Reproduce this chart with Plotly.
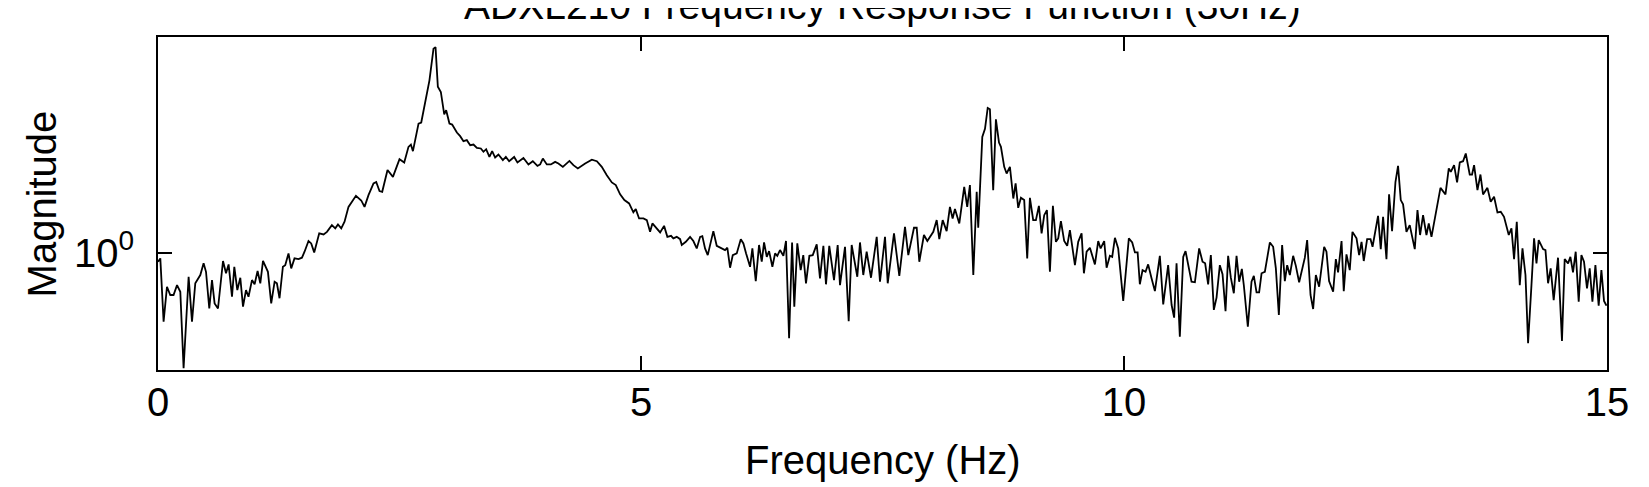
import plotly.graph_objects as go

# Frequency response (Hz, magnitude)
freq = [0.0, 0.024, 0.058, 0.093, 0.127, 0.161, 0.197, 0.231, 0.265, 0.317, 0.352, 0.386, 0.438, 0.472, 0.497,
        0.531, 0.559, 0.586, 0.621, 0.673, 0.704, 0.731, 0.766, 0.790, 0.821, 0.852, 0.880, 0.911, 0.937, 0.973,
        1.000, 1.031, 1.059, 1.087, 1.138, 1.172, 1.207, 1.231, 1.258, 1.293, 1.317, 1.351, 1.379, 1.413, 1.455,
        1.490, 1.517, 1.558, 1.586, 1.617, 1.669, 1.714, 1.749, 1.800, 1.835, 1.863, 1.897, 1.931, 1.972, 2.007,
        2.049, 2.104, 2.138, 2.179, 2.231, 2.259, 2.293, 2.321, 2.376, 2.432, 2.500, 2.549, 2.593, 2.618, 2.639,
        2.697, 2.725, 2.810, 2.835, 2.852, 2.873, 2.897, 2.928, 2.963, 2.983, 3.017, 3.045, 3.094, 3.128, 3.162,
        3.197, 3.232, 3.266, 3.301, 3.342, 3.369, 3.397, 3.431, 3.459, 3.490, 3.524, 3.570, 3.601, 3.635, 3.687,
        3.721, 3.783, 3.835, 3.880, 3.928, 3.956, 3.984, 4.025, 4.067, 4.111, 4.145, 4.191, 4.225, 4.259, 4.300,
        4.346, 4.422, 4.491, 4.543, 4.594, 4.646, 4.698, 4.739, 4.784, 4.828, 4.877, 4.921, 4.946, 4.980, 5.025,
        5.060, 5.094, 5.118, 5.163, 5.198, 5.239, 5.273, 5.311, 5.335, 5.370, 5.405, 5.422, 5.464, 5.508, 5.542,
        5.577, 5.612, 5.635, 5.663, 5.691, 5.718, 5.749, 5.784, 5.829, 5.870, 5.894, 5.922, 5.950, 5.991, 6.033,
        6.060, 6.088, 6.129, 6.153, 6.188, 6.222, 6.250, 6.274, 6.302, 6.326, 6.360, 6.388, 6.411, 6.439, 6.474,
        6.501, 6.533, 6.564, 6.587, 6.618, 6.653, 6.680, 6.708, 6.743, 6.778, 6.819, 6.853, 6.888, 6.915, 6.949,
        6.998, 7.036, 7.060, 7.112, 7.150, 7.181, 7.239, 7.267, 7.301, 7.336, 7.381, 7.440, 7.474, 7.526, 7.554,
        7.619, 7.674, 7.733, 7.767, 7.826, 7.854, 7.881, 7.929, 7.964, 8.026, 8.061, 8.088, 8.123, 8.164, 8.198,
        8.226, 8.250, 8.295, 8.346, 8.377, 8.405, 8.440, 8.475, 8.491, 8.533, 8.561, 8.589, 8.612, 8.646, 8.674,
        8.706, 8.726, 8.760, 8.785, 8.819, 8.854, 8.878, 8.905, 8.933, 8.967, 8.998, 9.026, 9.060, 9.088, 9.119,
        9.147, 9.174, 9.202, 9.233, 9.264, 9.295, 9.319, 9.347, 9.381, 9.412, 9.440, 9.492, 9.526, 9.561, 9.585,
        9.613, 9.647, 9.699, 9.733, 9.758, 9.795, 9.820, 9.854, 9.878, 9.906, 9.940, 9.992, 10.050, 10.085, 10.113,
        10.141, 10.164, 10.192, 10.223, 10.250, 10.285, 10.320, 10.371, 10.406, 10.457, 10.493, 10.519, 10.544,
        10.578, 10.613, 10.637, 10.699, 10.734, 10.778, 10.813, 10.840, 10.871, 10.899, 10.930, 10.958, 10.992,
        11.020, 11.051, 11.078, 11.106, 11.137, 11.165, 11.192, 11.220, 11.241, 11.282, 11.320, 11.344, 11.372,
        11.399, 11.424, 11.458, 11.510, 11.544, 11.572, 11.603, 11.637, 11.665, 11.689, 11.717, 11.751, 11.779,
        11.813, 11.872, 11.896, 11.931, 11.958, 11.986, 12.020, 12.072, 12.096, 12.123, 12.165, 12.193, 12.216,
        12.252, 12.275, 12.303, 12.337, 12.365, 12.407, 12.434, 12.459, 12.482, 12.517, 12.552, 12.573, 12.630,
        12.658, 12.682, 12.717, 12.744, 12.775, 12.810, 12.837, 12.865, 12.889, 12.924, 12.958, 13.010, 13.038,
        13.065, 13.096, 13.131, 13.155, 13.183, 13.235, 13.276, 13.328, 13.362, 13.383, 13.417, 13.448, 13.476,
        13.510, 13.538, 13.579, 13.603, 13.624, 13.659, 13.690, 13.717, 13.762, 13.796, 13.831, 13.866, 13.900,
        13.934, 13.983, 14.011, 14.038, 14.066, 14.097, 14.125, 14.156, 14.183, 14.218, 14.245, 14.270, 14.293,
        14.338, 14.363, 14.390, 14.417, 14.448, 14.493, 14.534, 14.562, 14.597, 14.621, 14.648, 14.676, 14.707,
        14.735, 14.762, 14.793, 14.821, 14.849, 14.880, 14.914, 14.942, 14.969, 14.994]

magnitude = [0.950, 0.969, 0.666, 0.819, 0.780, 0.780, 0.827, 0.795, 0.505, 0.869, 0.666, 0.836, 0.878, 0.941, 0.895,
             0.720, 0.852, 0.742, 0.720, 0.954, 0.887, 0.935, 0.772, 0.922, 0.803, 0.864, 0.728, 0.803, 0.772, 0.852,
             0.831, 0.899, 0.836, 0.955, 0.895, 0.742, 0.844, 0.836, 0.765, 0.922, 0.931, 0.998, 0.913, 0.969, 0.965,
             0.973, 1.008, 1.074, 1.059, 1.004, 1.124, 1.117, 1.134, 1.180, 1.158, 1.185, 1.158, 1.204, 1.315, 1.355,
             1.404, 1.366, 1.315, 1.410, 1.511, 1.524, 1.444, 1.438, 1.636, 1.571, 1.745, 1.711, 1.877, 1.903, 1.830,
             2.155, 2.168, 2.785, 3.135, 3.360, 3.390, 2.680, 2.599, 2.274, 2.333, 2.155, 2.142, 2.044, 2.000, 1.941,
             1.953, 1.896, 1.903, 1.866, 1.859, 1.823, 1.851, 1.768, 1.830, 1.762, 1.794, 1.735, 1.768, 1.724, 1.768,
             1.711, 1.758, 1.691, 1.724, 1.677, 1.691, 1.751, 1.691, 1.691, 1.717, 1.701, 1.667, 1.701, 1.727, 1.684,
             1.652, 1.701, 1.740, 1.724, 1.667, 1.587, 1.520, 1.497, 1.416, 1.369, 1.342, 1.273, 1.298, 1.228, 1.228,
             1.216, 1.134, 1.192, 1.158, 1.130, 1.175, 1.101, 1.108, 1.091, 1.101, 1.086, 1.049, 1.069, 1.101, 1.074,
             1.028, 1.101, 1.106, 1.028, 0.988, 1.059, 1.139, 1.044, 1.032, 1.018, 1.032, 0.917, 0.988, 0.998, 1.086,
             1.059, 0.998, 0.922, 1.028, 0.847, 1.049, 0.950, 1.065, 0.978, 1.012, 0.922, 0.998, 0.984, 1.018, 0.984,
             1.074, 0.604, 1.065, 0.728, 1.059, 0.904, 0.988, 0.836, 0.984, 0.988, 1.053, 0.861, 1.044, 0.831, 1.044,
             0.852, 1.049, 0.827, 1.038, 0.668, 1.049, 0.869, 1.065, 0.878, 1.008, 0.864, 1.101, 0.844, 1.101, 0.836,
             1.124, 0.874, 1.168, 0.988, 1.162, 1.162, 0.950, 1.113, 1.074, 1.134, 1.216, 1.086, 1.216, 1.139, 1.315,
             1.228, 1.298, 1.192, 1.481, 1.315, 1.497, 0.878, 1.438, 1.162, 1.991, 2.089, 2.364, 2.346, 1.452, 2.210,
             1.926, 1.877, 1.667, 1.603, 1.667, 1.382, 1.511, 1.308, 1.388, 1.369, 0.969, 1.388, 1.216, 1.216, 1.323,
             1.124, 1.252, 1.290, 0.895, 1.323, 1.069, 1.091, 1.208, 1.074, 1.044, 1.146, 0.931, 1.069, 1.124, 0.887,
             1.008, 1.032, 0.935, 1.074, 1.028, 1.074, 0.917, 0.984, 0.978, 1.095, 1.028, 0.753, 1.091, 1.065, 1.004,
             1.004, 0.831, 0.904, 0.895, 0.935, 0.861, 0.798, 0.984, 0.738, 0.931, 0.735, 0.682, 0.941,
             0.609, 0.978, 1.012, 0.844, 0.841, 1.028, 0.950, 0.941, 0.831, 0.988, 0.714, 0.768, 0.931,
             0.882, 0.709, 0.984, 0.864, 0.788, 0.984, 0.844, 0.910, 0.824, 0.646, 0.844, 0.874, 0.792,
             0.792, 0.887, 0.895, 1.065, 1.038, 0.913, 0.693, 1.049, 0.847, 0.931, 0.878, 0.984, 0.927,
             0.841, 0.973, 1.080, 0.780, 0.718, 0.878, 0.819, 1.038, 1.008, 0.847, 0.795, 0.965, 0.892,
             1.074, 0.798, 0.992, 0.904, 1.134, 1.091, 0.988, 1.069, 0.954, 1.086, 1.086, 1.038, 1.247,
             1.024, 1.240, 0.965, 1.416, 1.139, 1.524, 1.677, 1.369, 1.335, 1.134, 1.180, 1.024, 1.290,
             1.113, 1.252, 1.113, 1.192, 1.101, 1.290, 1.472, 1.416, 1.652, 1.619, 1.684, 1.520, 1.711,
             1.724, 1.805, 1.593, 1.593, 1.684, 1.452, 1.593, 1.416, 1.472, 1.355, 1.396, 1.273, 1.277,
             1.240, 1.113, 1.158, 0.965, 1.204, 0.827, 1.028, 0.878, 0.586, 0.827, 1.091, 0.941, 1.080,
             1.024, 1.018, 0.836, 0.913, 0.757, 0.973, 0.594, 0.965, 0.941, 0.978, 0.892, 1.008, 0.750,
             0.988, 0.950, 0.811, 0.913, 0.750, 0.931, 0.732, 0.904, 0.753, 0.732]

x_ticks = [0, 5, 10, 15]
y_ticks = [1]
y_ticktext = ["10<sup>0</sup>"]
x_range = [0, 15]
y_range = [0.5, 3.6]

font_family = "Liberation Sans, Arial, Helvetica, sans-serif"
axis_style = dict(showline=True, linecolor="black", linewidth=2, mirror="allticks",
                  ticks="inside", ticklen=14, tickwidth=2, tickcolor="black",
                  showgrid=False, zeroline=False, automargin=False)

figure = go.Figure()
figure.add_trace(go.Scatter(x=freq, y=magnitude, mode="lines",
                            line=dict(color="black", width=1.8), showlegend=False))

figure.update_layout(
    width=1649, height=487,
    margin=dict(l=150, r=50, t=29, b=125),
    paper_bgcolor="white", plot_bgcolor="white",
    font=dict(family=font_family, size=40, color="black"),
    xaxis=dict(range=x_range, tickvals=x_ticks, ticklabelstandoff=-4, **axis_style),
    yaxis=dict(type="log", range=[-0.30103, 0.55630],
               tickvals=y_ticks, ticktext=y_ticktext, ticklabelstandoff=14, **axis_style),
    annotations=[
        dict(text="ADXL210 Frequency Response Function (30Hz)", xref="paper", yref="paper",
             x=0.5, y=1.096, xanchor="center", yanchor="middle", showarrow=False,
             font=dict(size=39)),
        dict(text="Frequency (Hz)", xref="paper", yref="paper",
             x=0.5, y=-0.2703, xanchor="center", yanchor="middle", showarrow=False,
             font=dict(size=40)),
        dict(text="Magnitude", xref="paper", yref="paper", textangle=-90,
             x=-0.0801, y=0.5, xanchor="center", yanchor="middle", showarrow=False,
             font=dict(size=40)),
    ],
)

figure.write_html("out.html")
